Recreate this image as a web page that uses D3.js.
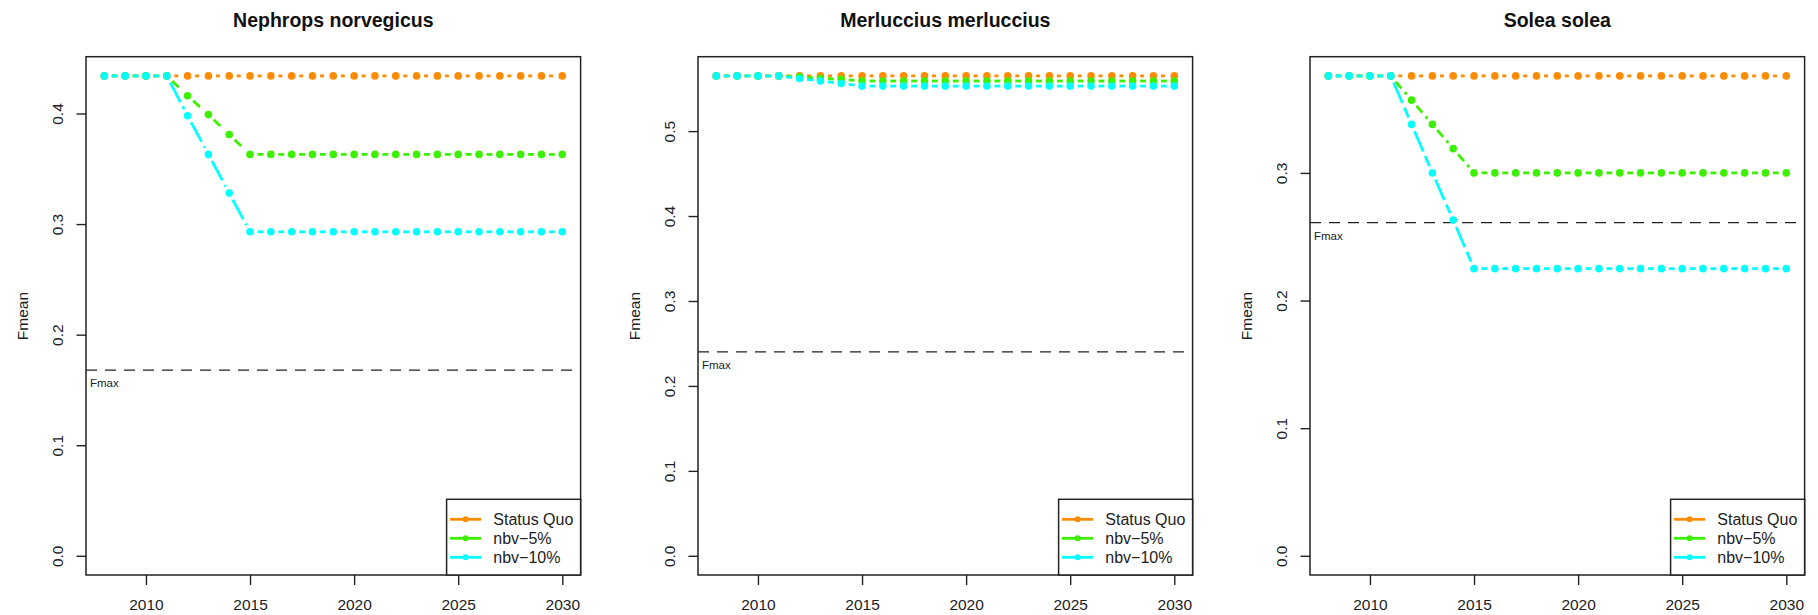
<!DOCTYPE html>
<html>
<head>
<meta charset="utf-8">
<script src="https://cdn.jsdelivr.net/npm/d3@7"></script>
<style>
  body { margin: 0; background: #fff; }
  svg { display: block; }
  text { font-family: "Liberation Sans", Arial, sans-serif; fill: #222; }
</style>
</head>
<body>
<svg id="chart" width="1818" height="615"></svg>
<script>
// values
const years = [2008, 2009, 2010, 2011, 2012, 2013, 2014, 2015, 2016, 2017, 2018, 2019,
               2020, 2021, 2022, 2023, 2024, 2025, 2026, 2027, 2028, 2029, 2030];
const titles = ["Nephrops norvegicus", "Merluccius merluccius", "Solea solea"];
const seriesNames = ["Status Quo", "nbv\u22125%", "nbv\u221210%"];

const nephStatusQuo = [0.434, 0.434, 0.434, 0.434, 0.434, 0.434, 0.434, 0.434, 0.434, 0.434, 0.434, 0.434,
                       0.434, 0.434, 0.434, 0.434, 0.434, 0.434, 0.434, 0.434, 0.434, 0.434, 0.434];
const nephNbv5 = [0.434, 0.434, 0.434, 0.434, 0.416, 0.399, 0.381, 0.363, 0.363, 0.363, 0.363, 0.363,
                  0.363, 0.363, 0.363, 0.363, 0.363, 0.363, 0.363, 0.363, 0.363, 0.363, 0.363];
const nephNbv10 = [0.434, 0.434, 0.434, 0.434, 0.398, 0.363, 0.328, 0.293, 0.293, 0.293, 0.293, 0.293,
                   0.293, 0.293, 0.293, 0.293, 0.293, 0.293, 0.293, 0.293, 0.293, 0.293, 0.293];

const merlStatusQuo = [0.565, 0.565, 0.565, 0.565, 0.565, 0.565, 0.565, 0.565, 0.565, 0.565, 0.565, 0.565,
                       0.565, 0.565, 0.565, 0.565, 0.565, 0.565, 0.565, 0.565, 0.565, 0.565, 0.565];
const merlNbv5 = [0.565, 0.565, 0.565, 0.565, 0.564, 0.562, 0.561, 0.559, 0.559, 0.559, 0.559, 0.559,
                  0.559, 0.559, 0.559, 0.559, 0.559, 0.559, 0.559, 0.559, 0.559, 0.559, 0.559];
const merlNbv10 = [0.565, 0.565, 0.565, 0.565, 0.562, 0.559, 0.556, 0.553, 0.553, 0.553, 0.553, 0.553,
                   0.553, 0.553, 0.553, 0.553, 0.553, 0.553, 0.553, 0.553, 0.553, 0.553, 0.553];

const soleStatusQuo = [0.376, 0.376, 0.376, 0.376, 0.376, 0.376, 0.376, 0.376, 0.376, 0.376, 0.376, 0.376,
                       0.376, 0.376, 0.376, 0.376, 0.376, 0.376, 0.376, 0.376, 0.376, 0.376, 0.376];
const soleNbv5 = [0.376, 0.376, 0.376, 0.376, 0.357, 0.338, 0.319, 0.300, 0.300, 0.300, 0.300, 0.300,
                  0.300, 0.300, 0.300, 0.300, 0.300, 0.300, 0.300, 0.300, 0.300, 0.300, 0.300];
const soleNbv10 = [0.376, 0.376, 0.376, 0.376, 0.338, 0.300, 0.263, 0.225, 0.225, 0.225, 0.225, 0.225,
                   0.225, 0.225, 0.225, 0.225, 0.225, 0.225, 0.225, 0.225, 0.225, 0.225, 0.225];

const fmaxValues = [0.168, 0.240, 0.261];
const xTicks = [2010, 2015, 2020, 2025, 2030];
const nephYTicks = [0.0, 0.1, 0.2, 0.3, 0.4];
const merlYTicks = [0.0, 0.1, 0.2, 0.3, 0.4, 0.5];
const soleYTicks = [0.0, 0.1, 0.2, 0.3];

const panels = [
  { title: titles[0], series: [nephStatusQuo, nephNbv5, nephNbv10], fmax: fmaxValues[0], yTicks: nephYTicks },
  { title: titles[1], series: [merlStatusQuo, merlNbv5, merlNbv10], fmax: fmaxValues[1], yTicks: merlYTicks },
  { title: titles[2], series: [soleStatusQuo, soleNbv5, soleNbv10], fmax: fmaxValues[2], yTicks: soleYTicks }
];

const colors = ["#ff8c00", "#3cf000", "#00ffff"];
const dashes = ["4,4", "9,5", "22,5"];
const plotW = 494.6, plotTop = 56.7, plotBottom = 575, gap = 7.5;

const svg = d3.select("#chart");

panels.forEach((p, i) => drawPanel(p, 86 + i * 612));

function drawPanel(p, left) {
  const right = left + plotW;
  const maxV = d3.max(p.series.flat());
  const x = d3.scaleLinear().domain([2007.12, 2030.88]).range([left, right]);
  const y = d3.scaleLinear().domain([-0.04 * maxV, 1.04 * maxV]).range([plotBottom, plotTop]);
  const g = svg.append("g");

  g.append("text").attr("x", (left + right) / 2).attr("y", 27).attr("text-anchor", "middle")
    .style("font-size", "19.5px").style("font-weight", "bold").style("fill", "#111").text(p.title);

  // Fmax reference
  g.append("line").attr("x1", left).attr("x2", right).attr("y1", y(p.fmax)).attr("y2", y(p.fmax))
    .attr("stroke", "#222").attr("stroke-width", 1.3).attr("stroke-dasharray", "11,8");
  g.append("text").attr("x", left + 4).attr("y", y(p.fmax) + 17).style("font-size", "11.5px").text("Fmax");

  // series, type "b": segments with gaps round the points
  p.series.forEach((vals, s) => {
    const pts = vals.map((v, k) => [x(years[k]), y(v)]);
    for (let k = 0; k < pts.length - 1; k++) {
      const [x1, y1] = pts[k], [x2, y2] = pts[k + 1];
      const len = Math.hypot(x2 - x1, y2 - y1);
      const ux = (x2 - x1) / len, uy = (y2 - y1) / len;
      g.append("line")
        .attr("x1", x1 + ux * gap).attr("y1", y1 + uy * gap)
        .attr("x2", x2 - ux * gap).attr("y2", y2 - uy * gap)
        .attr("stroke", colors[s]).attr("stroke-width", 2.8).attr("stroke-dasharray", dashes[s]);
    }
    g.selectAll(null).data(vals).enter().append("circle")
      .attr("cx", (d, k) => x(years[k])).attr("cy", d => y(d)).attr("r", 3.8).attr("fill", colors[s]);
  });

  // axes
  const xAxis = g.append("g").attr("transform", `translate(0,${plotBottom})`)
    .call(d3.axisBottom(x).tickValues(xTicks).tickSize(10).tickSizeOuter(0).tickFormat(d3.format("d")));
  xAxis.select(".domain").remove();
  xAxis.selectAll("line").attr("stroke", "#222").attr("stroke-width", 1.4);
  xAxis.selectAll("text").attr("y", 34.5).attr("dy", 0).style("font-size", "15.5px").style("font-family", null);

  const yAxis = g.append("g").attr("transform", `translate(${left},0)`)
    .call(d3.axisLeft(y).tickValues(p.yTicks).tickSize(9.5).tickSizeOuter(0).tickFormat(d3.format(".1f")));
  yAxis.select(".domain").remove();
  yAxis.selectAll("line").attr("stroke", "#222").attr("stroke-width", 1.4);
  yAxis.selectAll("text").attr("transform", "rotate(-90)").attr("x", 0).attr("y", -22.7).attr("dy", 0)
    .attr("text-anchor", "middle").style("font-size", "15.5px").style("font-family", null);

  g.append("text").attr("transform", `translate(${left - 58.4},316) rotate(-90)`).attr("text-anchor", "middle")
    .style("font-size", "15.5px").text("Fmean");

  g.append("rect").attr("x", left).attr("y", plotTop).attr("width", plotW).attr("height", plotBottom - plotTop)
    .attr("fill", "none").attr("stroke", "#222").attr("stroke-width", 1.5);

  // legend, bottom right
  const lg = g.append("g").attr("transform", `translate(${right - 134},${plotBottom - 75.7})`);
  lg.append("rect").attr("width", 134).attr("height", 75.7).attr("fill", "#fff")
    .attr("stroke", "#222").attr("stroke-width", 1.5);
  seriesNames.forEach((name, s) => {
    const ry = 20 + s * 19;
    lg.append("line").attr("x1", 3.4).attr("x2", 34.4).attr("y1", ry).attr("y2", ry)
      .attr("stroke", colors[s]).attr("stroke-width", 2.8);
    lg.append("circle").attr("cx", 19).attr("cy", ry).attr("r", 3).attr("fill", colors[s]);
    lg.append("text").attr("x", 46.7).attr("y", ry + 5.8).style("font-size", "16px").text(name);
  });
}
</script>
</body>
</html>
